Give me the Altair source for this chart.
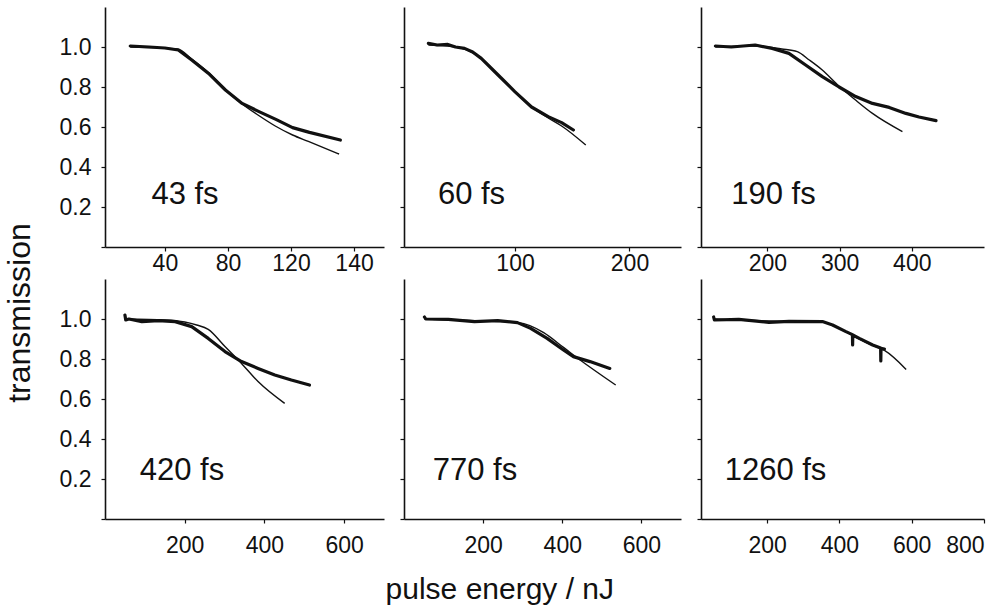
import altair as alt
import pandas as pd

FONT = "Liberation Sans"

# ---- panel labels ----
labels = ["43 fs", "60 fs", "190 fs", "420 fs", "770 fs", "1260 fs"]

m1_x = [18, 30, 40, 48.5, 57, 67.7, 78.4, 89, 99.7, 110.4, 121, 131.7, 151.3]
m1_y = [1.005, 1.0, 0.995, 0.985, 0.935, 0.868, 0.785, 0.718, 0.677, 0.638, 0.597, 0.573, 0.535]
f1_x = [18, 48, 57, 68, 78, 89, 100, 110, 121, 131, 150.5]
f1_y = [1.0, 0.99, 0.94, 0.87, 0.79, 0.715, 0.655, 0.605, 0.56, 0.528, 0.465]

m2_x = [24.3, 32, 41.3, 48, 55.9, 63, 70.5, 85.2, 99.8, 114.4, 129, 140.7, 151]
m2_y = [1.018, 1.01, 1.013, 1.0, 0.993, 0.975, 0.943, 0.86, 0.777, 0.70, 0.652, 0.622, 0.585]
f2_x = [24.3, 41, 56, 70.5, 85.2, 99.8, 114.4, 129, 140.7, 161.8]
f2_y = [1.01, 1.005, 0.99, 0.943, 0.86, 0.777, 0.70, 0.645, 0.605, 0.51]

m3_x = [127.9, 150, 183, 206.6, 229.8, 252.9, 276, 299.2, 322.3, 345.5, 368.7, 391.8, 410, 433.5]
m3_y = [1.005, 1.0, 1.01, 0.993, 0.968, 0.91, 0.852, 0.80, 0.752, 0.718, 0.698, 0.668, 0.65, 0.632]
f3_x = [127.9, 180, 220, 241.3, 258, 276, 299, 322, 345.5, 387]
f3_y = [1.0, 1.005, 0.99, 0.977, 0.935, 0.885, 0.805, 0.735, 0.668, 0.577]

m4_x = [50, 52, 60, 92.5, 134, 176, 217.5, 259, 301, 342.5, 384, 426, 467.5, 513]
m4_y = [1.02, 0.995, 1.0, 0.987, 0.992, 0.987, 0.962, 0.903, 0.837, 0.787, 0.753, 0.72, 0.695, 0.67]
f4_x = [51, 150, 200, 230, 259, 301, 342.5, 384, 450.8]
f4_y = [1.0, 0.995, 0.985, 0.97, 0.948, 0.862, 0.778, 0.687, 0.578]

m5_x = [51.7, 55, 111.7, 178, 236.7, 286.7, 320, 361.7, 403, 428, 470, 520]
m5_y = [1.01, 1.0, 0.998, 0.987, 0.992, 0.982, 0.953, 0.903, 0.845, 0.812, 0.787, 0.753]
f5_x = [51.7, 200, 290, 353, 403, 445, 535]
f5_y = [1.0, 0.99, 0.982, 0.932, 0.858, 0.795, 0.67]

m6_x = [52, 54, 121.6, 205, 260.6, 353, 381, 418, 436, 436.5, 437, 455, 492, 514, 514.5, 515, 524.5]
m6_y = [1.01, 0.995, 0.998, 0.983, 0.988, 0.987, 0.97, 0.937, 0.922, 0.87, 0.92, 0.903, 0.87, 0.855, 0.79, 0.853, 0.85]
f6_x = [52, 200, 353, 381, 418, 455, 492, 524.5, 584.6]
f6_y = [1.0, 0.99, 0.985, 0.968, 0.935, 0.9, 0.868, 0.843, 0.748]

# ---- axis settings per panel ----
x_domains = [[2, 179], [3, 245], [108, 500], [0, 700], [0, 700], [17, 800]]
x_ticks = [[40, 80, 120, 160], [100, 200], [200, 300, 400],
           [200, 400, 600], [200, 400, 600], [200, 400, 600, 800]]
x_label_fix = ["datum.value == 160 ? '140' : datum.label", "datum.label", "datum.label",
               "datum.label", "datum.label", "datum.label"]
y_ticks = [0, 0.2, 0.4, 0.6, 0.8, 1.0]
widths = [279, 277, 283, 279, 277, 283]
label_x = [80, 67.5, 72.5, 77, 71, 74.5]
label_y = [188, 188, 188, 192, 192, 192]

measured = [(m1_x, m1_y), (m2_x, m2_y), (m3_x, m3_y), (m4_x, m4_y), (m5_x, m5_y), (m6_x, m6_y)]
fitted = [(f1_x, f1_y), (f2_x, f2_y), (f3_x, f3_y), (f4_x, f4_y), (f5_x, f5_y), (f6_x, f6_y)]


def panel(i):
    mx, my = measured[i]
    fx, fy = fitted[i]
    dm = pd.DataFrame({"x": mx, "y": my, "o": list(range(len(mx)))})
    df = pd.DataFrame({"x": fx, "y": fy, "o": list(range(len(fx)))})
    show_y = i in (0, 3)
    top = i < 3
    xs = alt.X("x:Q", title=None,
               scale=alt.Scale(domain=x_domains[i], nice=False, zero=False),
               axis=alt.Axis(values=x_ticks[i], labelExpr=x_label_fix[i],
                             labelFlush=(i == 5), labelOverlap=False,
                             labelPadding=(1 if top else 11)))
    ys = alt.Y("y:Q", title=None,
               scale=alt.Scale(domain=[0, 1.2], nice=False, zero=False),
               axis=alt.Axis(values=y_ticks, labels=show_y, format=".1f",
                             labelExpr="datum.value == 0 ? '' : datum.label"))
    meas = alt.Chart(dm).mark_line(color="#111", strokeWidth=3.2, strokeJoin="round",
                                   strokeCap="round").encode(x=xs, y=ys, order="o:Q")
    fit = alt.Chart(df).mark_line(color="#111", strokeWidth=1.4, interpolate="monotone").encode(
        x="x:Q", y="y:Q", order="o:Q")
    txt = alt.Chart(pd.DataFrame({"t": [labels[i]]})).mark_text(
        font=FONT, fontSize=31, color="#111", align="center", baseline="middle").encode(
        text="t:N", x=alt.value(label_x[i]), y=alt.value(label_y[i]))
    return alt.layer(meas, fit, txt).properties(width=widths[i], height=240)


row1 = alt.hconcat(panel(0), panel(1), panel(2), spacing=15)
row2 = alt.hconcat(panel(3), panel(4), panel(5), spacing=15)
inner = alt.vconcat(row1, row2, spacing=4,
                    title=alt.TitleParams("pulse energy / nJ", orient="bottom", anchor="middle",
                                          fontSize=30, font=FONT, fontWeight="normal",
                                          color="#111", offset=18, dx=-22))
chart = alt.hconcat(inner, title=alt.TitleParams("transmission", orient="left", anchor="middle",
                                                 fontSize=32, font=FONT, fontWeight="normal",
                                                 color="#111", offset=22, dx=-7)).properties(
    padding={"left": 4, "top": 7, "right": 10, "bottom": 5}
).configure_view(stroke=None).configure_axis(
    domainColor="#111", domainWidth=1.6, tickColor="#111", tickWidth=1.2, tickSize=4,
    labelFont=FONT, labelFontSize=23, labelColor="#111", grid=False
).configure_axisY(labelPadding=10)

chart.save("out.html", embed_options={"renderer": "svg", "actions": False})
